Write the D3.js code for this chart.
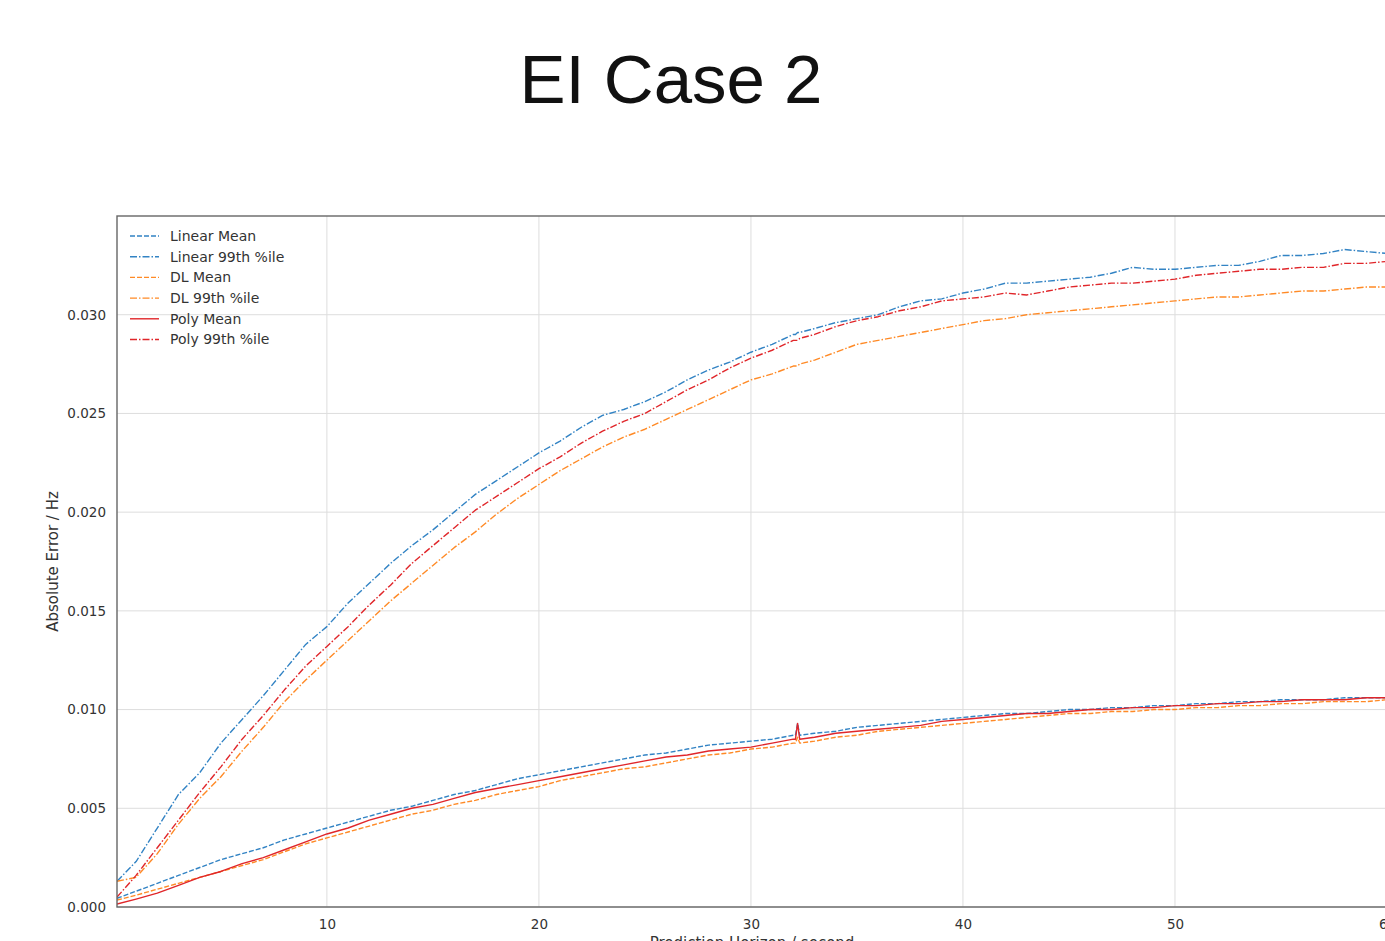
<!DOCTYPE html>
<html>
<head>
<meta charset="utf-8">
<script src="https://cdn.jsdelivr.net/npm/d3@7"></script>
<style>
  html, body { margin: 0; padding: 0; background: #fff; overflow: hidden; }
  svg { display: block; }
</style>
</head>
<body>
<svg id="chart" width="1385" height="941"></svg>
<script>
// Prediction horizon (seconds)
const horizon = [0.1, 1, 2, 3, 4, 5, 6, 7, 8, 9, 10, 11, 12, 13, 14, 15, 16, 17, 18, 19, 20,
  21, 22, 23, 24, 25, 26, 27, 28, 29, 30, 31, 32, 32.1, 32.2, 32.3, 33, 34, 35, 36, 37, 38, 39, 40,
  41, 42, 43, 44, 45, 46, 47, 48, 49, 50, 51, 52, 53, 54, 55, 56, 57, 58, 59, 60];

// Absolute error (Hz) for each model
const linearMean = [0.00044, 0.0008, 0.0012, 0.0016, 0.0020, 0.0024, 0.0027, 0.0030, 0.0034, 0.0037, 0.0040,
  0.0043, 0.0046, 0.0049, 0.0051, 0.0054, 0.0057, 0.0059, 0.0062, 0.0065, 0.0067,
  0.0069, 0.0071, 0.0073, 0.0075, 0.0077, 0.0078, 0.0080, 0.0082, 0.0083, 0.0084,
  0.0085, 0.0087, 0.0087, 0.0093, 0.0087, 0.0088, 0.0089, 0.0091, 0.0092, 0.0093, 0.0094, 0.0095, 0.0096,
  0.0097, 0.0098, 0.0098, 0.0099, 0.0100, 0.0100, 0.0101, 0.0101, 0.0102, 0.0102,
  0.0103, 0.0103, 0.0104, 0.0104, 0.0105, 0.0105, 0.0105, 0.0106, 0.0106, 0.0106];

const linearP99 = [0.0013, 0.0023, 0.0040, 0.0057, 0.0068, 0.0083, 0.0095, 0.0107, 0.0120, 0.0133, 0.0142,
  0.0154, 0.0164, 0.0174, 0.0183, 0.0191, 0.0200, 0.0209, 0.0216, 0.0223, 0.0230,
  0.0236, 0.0243, 0.0249, 0.0252, 0.0256, 0.0261, 0.0267, 0.0272, 0.0276, 0.0281,
  0.0285, 0.0290, 0.0290, 0.0291, 0.0291, 0.0293, 0.0296, 0.0298, 0.0300, 0.0304, 0.0307, 0.0308, 0.0311,
  0.0313, 0.0316, 0.0316, 0.0317, 0.0318, 0.0319, 0.0321, 0.0324, 0.0323, 0.0323,
  0.0324, 0.0325, 0.0325, 0.0327, 0.0330, 0.0330, 0.0331, 0.0333, 0.0332, 0.0331];

const dlMean = [0.00035, 0.0006, 0.0009, 0.0012, 0.0015, 0.0018, 0.0021, 0.0024, 0.0028, 0.0032, 0.0035,
  0.0038, 0.0041, 0.0044, 0.0047, 0.0049, 0.0052, 0.0054, 0.0057, 0.0059, 0.0061,
  0.0064, 0.0066, 0.0068, 0.0070, 0.0071, 0.0073, 0.0075, 0.0077, 0.0078, 0.0080,
  0.0081, 0.0083, 0.0083, 0.0086, 0.0083, 0.0084, 0.0086, 0.0087, 0.0089, 0.0090, 0.0091, 0.0092, 0.0093,
  0.0094, 0.0095, 0.0096, 0.0097, 0.0098, 0.0098, 0.0099, 0.0099, 0.0100, 0.0100,
  0.0101, 0.0101, 0.0102, 0.0102, 0.0103, 0.0103, 0.0104, 0.0104, 0.0104, 0.0105];

const dlP99 = [0.0013, 0.0015, 0.0027, 0.0042, 0.0055, 0.0066, 0.0079, 0.0091, 0.0104, 0.0115, 0.0125,
  0.0135, 0.0145, 0.0155, 0.0164, 0.0173, 0.0182, 0.0190, 0.0199, 0.0207, 0.0214,
  0.0221, 0.0227, 0.0233, 0.0238, 0.0242, 0.0247, 0.0252, 0.0257, 0.0262, 0.0267,
  0.0270, 0.0274, 0.0274, 0.0274, 0.0275, 0.0277, 0.0281, 0.0285, 0.0287, 0.0289, 0.0291, 0.0293, 0.0295,
  0.0297, 0.0298, 0.0300, 0.0301, 0.0302, 0.0303, 0.0304, 0.0305, 0.0306, 0.0307,
  0.0308, 0.0309, 0.0309, 0.0310, 0.0311, 0.0312, 0.0312, 0.0313, 0.0314, 0.0314];

const polyMean = [0.00015, 0.0004, 0.0007, 0.0011, 0.0015, 0.0018, 0.0022, 0.0025, 0.0029, 0.0033, 0.0037,
  0.0040, 0.0044, 0.0047, 0.0050, 0.0052, 0.0055, 0.0058, 0.0060, 0.0062, 0.0064,
  0.0066, 0.0068, 0.0070, 0.0072, 0.0074, 0.0076, 0.0077, 0.0079, 0.0080, 0.0081,
  0.0083, 0.0085, 0.0085, 0.0093, 0.0085, 0.0086, 0.0088, 0.0089, 0.0090, 0.0091, 0.0092, 0.0094, 0.0095,
  0.0096, 0.0097, 0.0098, 0.0098, 0.0099, 0.0100, 0.0100, 0.0101, 0.0101, 0.0102,
  0.0102, 0.0103, 0.0103, 0.0104, 0.0104, 0.0105, 0.0105, 0.0105, 0.0106, 0.0106];

const polyP99 = [0.0005, 0.0016, 0.0030, 0.0044, 0.0058, 0.0071, 0.0085, 0.0097, 0.0110, 0.0122, 0.0132,
  0.0142, 0.0153, 0.0163, 0.0174, 0.0183, 0.0192, 0.0201, 0.0208, 0.0215, 0.0222,
  0.0228, 0.0235, 0.0241, 0.0246, 0.0250, 0.0256, 0.0262, 0.0267, 0.0273, 0.0278,
  0.0282, 0.0287, 0.0287, 0.0287, 0.0288, 0.0290, 0.0294, 0.0297, 0.0299, 0.0302, 0.0304, 0.0307, 0.0308,
  0.0309, 0.0311, 0.0310, 0.0312, 0.0314, 0.0315, 0.0316, 0.0316, 0.0317, 0.0318,
  0.0320, 0.0321, 0.0322, 0.0323, 0.0323, 0.0324, 0.0324, 0.0326, 0.0326, 0.0327];

const xTicks = [10, 20, 30, 40, 50, 60];
const yTicks = [0, 0.005, 0.010, 0.015, 0.020, 0.025, 0.030];

const seriesNames = ["Linear Mean", "Linear 99th %ile", "DL Mean", "DL 99th %ile", "Poly Mean", "Poly 99th %ile"];
const seriesValues = [linearMean, linearP99, dlMean, dlP99, polyMean, polyP99];

const BLUE = "#3283c4", ORANGE = "#ff8a26", RED = "#e0262a";
const seriesStyle = [
  { color: BLUE,   dash: "5,2" },
  { color: BLUE,   dash: "7,2,1.5,2" },
  { color: ORANGE, dash: "5,2" },
  { color: ORANGE, dash: "7,2,1.5,2" },
  { color: RED,    dash: null },
  { color: RED,    dash: "7,2,1.5,2" }
];

const svg = d3.select("#chart");
const plot = { left: 117, right: 1387, top: 216, bottom: 907 };

const x = d3.scaleLinear().domain([0.1, 60]).range([plot.left, plot.right]);
const y = d3.scaleLinear().domain([0, 0.035]).range([plot.bottom, plot.top]);

// Title
svg.append("text")
  .attr("x", 671).attr("y", 103)
  .attr("text-anchor", "middle")
  .attr("font-family", "'Liberation Sans', Arial, sans-serif")
  .attr("font-size", 69)
  .attr("fill", "#111")
  .text("EI Case 2");

// Grid
const grid = svg.append("g");
grid.selectAll("line.gx").data(xTicks).join("line")
  .attr("x1", d => x(d)).attr("x2", d => x(d))
  .attr("y1", plot.top).attr("y2", plot.bottom)
  .attr("stroke", "#dddddd").attr("stroke-width", 1);
grid.selectAll("line.gy").data(yTicks).join("line")
  .attr("x1", plot.left).attr("x2", plot.right)
  .attr("y1", d => y(d)).attr("y2", d => y(d))
  .attr("stroke", "#dddddd").attr("stroke-width", 1);

// Axes (labels only, no tick marks)
const font = "'DejaVu Sans', Verdana, sans-serif";
const xAxis = svg.append("g")
  .attr("transform", `translate(0,${plot.bottom})`)
  .call(d3.axisBottom(x).tickValues(xTicks).tickSize(0).tickPadding(12).tickFormat(d3.format("d")));
const yAxis = svg.append("g")
  .attr("transform", `translate(${plot.left},0)`)
  .call(d3.axisLeft(y).tickValues(yTicks).tickSize(0).tickPadding(11).tickFormat(d3.format(".3f")));
[xAxis, yAxis].forEach(a => {
  a.select(".domain").remove();
  a.selectAll("text").attr("font-family", font).attr("font-size", 13.5).attr("fill", "#333");
});

// Lines
svg.append("clipPath").attr("id", "plotclip")
  .append("rect").attr("x", plot.left).attr("y", plot.top)
  .attr("width", plot.right - plot.left).attr("height", plot.bottom - plot.top);

const lineGen = d3.line().x(d => x(d[0])).y(d => y(d[1]));
const linesG = svg.append("g").attr("clip-path", "url(#plotclip)");
seriesValues.forEach((vals, i) => {
  const pts = horizon.map((h, k) => [h, vals[k]]);
  linesG.append("path")
    .datum(pts)
    .attr("d", lineGen)
    .attr("fill", "none")
    .attr("stroke", seriesStyle[i].color)
    .attr("stroke-width", 1.4)
    .attr("stroke-dasharray", seriesStyle[i].dash)
    .attr("stroke-linejoin", "round");
});

// Frame
svg.append("rect")
  .attr("x", plot.left).attr("y", plot.top)
  .attr("width", plot.right - plot.left).attr("height", plot.bottom - plot.top)
  .attr("fill", "none").attr("stroke", "#666").attr("stroke-width", 1.4);

// Axis titles
svg.append("text")
  .attr("transform", `translate(58,561.5) rotate(-90)`)
  .attr("text-anchor", "middle")
  .attr("font-family", font).attr("font-size", 15).attr("fill", "#333")
  .text("Absolute Error / Hz");
svg.append("text")
  .attr("x", (plot.left + plot.right) / 2).attr("y", 948)
  .attr("text-anchor", "middle")
  .attr("font-family", font).attr("font-size", 15).attr("fill", "#333")
  .text("Prediction Horizon / second");

// Legend
const legend = svg.append("g").attr("transform", "translate(130,236)");
seriesNames.forEach((name, i) => {
  const row = legend.append("g").attr("transform", `translate(0,${i * 20.7})`);
  row.append("line")
    .attr("x1", 0).attr("x2", 29).attr("y1", 0).attr("y2", 0)
    .attr("stroke", seriesStyle[i].color).attr("stroke-width", 1.4)
    .attr("stroke-dasharray", seriesStyle[i].dash);
  row.append("text")
    .attr("x", 40).attr("y", 0).attr("dy", "0.35em")
    .attr("font-family", font).attr("font-size", 14).attr("fill", "#333")
    .text(name);
});
</script>
</body>
</html>
